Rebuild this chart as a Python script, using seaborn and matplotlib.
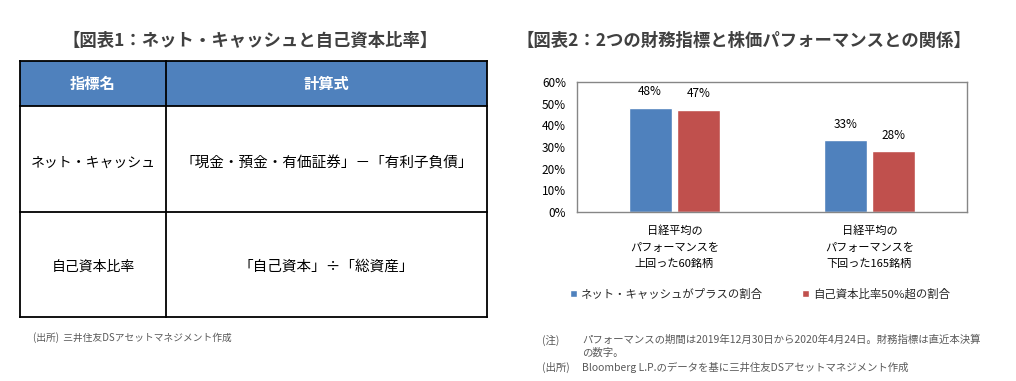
import matplotlib
matplotlib.use("Agg")
import matplotlib.pyplot as plt
import matplotlib.ticker as mticker
from matplotlib.patches import Rectangle
import seaborn as sns
import pandas as pd

# ---------------- data ----------------
title1 = "【図表1：ネット・キャッシュと自己資本比率】"
title2 = "【図表2：2つの財務指標と株価パフォーマンスとの関係】"
table_header = ["指標名", "計算式"]
table_names = ["ネット・キャッシュ", "自己資本比率"]
table_formulas = ["「現金・預金・有価証券」－「有利子負債」", "「自己資本」÷「総資産」"]
source1 = "(出所)  三井住友DSアセットマネジメント作成"

categories = ["日経平均の\nパフォーマンスを\n上回った60銘柄", "日経平均の\nパフォーマンスを\n下回った165銘柄"]
series_names = ["ネット・キャッシュがプラスの割合", "自己資本比率50%超の割合"]
net_cash_plus = [0.48, 0.33]
equity_ratio_50 = [0.47, 0.28]
y_ticks = [0, 0.1, 0.2, 0.3, 0.4, 0.5, 0.6]

note_label = "(注)"
note_lines = ["パフォーマンスの期間は2019年12月30日から2020年4月24日。財務指標は直近本決算", "の数字。"]
source2_label = "(出所)"
source2_text = "Bloomberg L.P.のデータを基に三井住友DSアセットマネジメント作成"

BLUE = "#4F81BD"
RED = "#C0504D"
TEXT = "#404040"

# ---------------- style ----------------
sns.set_theme(style="white")
plt.rcParams["font.family"] = ["Noto Sans CJK JP", "DejaVu Sans"]

W, H = 1016, 381
fig = plt.figure(figsize=(W / 100, H / 100), dpi=100)

# overlay axes in pixel coordinates for table and texts
pa = fig.add_axes([0, 0, 1, 1])
pa.set_xlim(0, W)
pa.set_ylim(H, 0)
pa.axis("off")

# titles
pa.text(250, 41, title1, ha="center", va="center", fontsize=12.5, fontweight="bold", color=TEXT)
pa.text(744, 41, title2, ha="center", va="center", fontsize=12.5, fontweight="bold", color=TEXT)

# table
L, R, C = 20, 487, 166
T, HB, R1, B = 61, 106, 212, 317
pa.add_patch(Rectangle((L, T), R - L, HB - T, facecolor=BLUE, edgecolor="none"))
lw = 1.3
for y in [T, HB, R1, B]:
    pa.plot([L, R], [y, y], color="black", lw=lw, solid_capstyle="projecting")
for x in [L, C, R]:
    pa.plot([x, x], [T, B], color="black", lw=lw, solid_capstyle="projecting")
pa.text((L + C) / 2, (T + HB) / 2, table_header[0], ha="center", va="center",
        fontsize=11, fontweight="bold", color="white")
pa.text((C + R) / 2, (T + HB) / 2, table_header[1], ha="center", va="center",
        fontsize=11, fontweight="bold", color="white")
row_centers = [(HB + R1) / 2 + 4, (R1 + B) / 2 + 2]
for yc, name, formula in zip(row_centers, table_names, table_formulas):
    pa.text((L + C) / 2, yc, name, ha="center", va="center", fontsize=10, color="black")
    pa.text((C + R) / 2, yc, formula, ha="center", va="center", fontsize=10.5, color="black")
pa.text(33, 338, source1, ha="left", va="center", fontsize=7, color="#595959")

# notes (right)
pa.text(542, 340, note_label, ha="left", va="center", fontsize=7.5, color="#595959")
pa.text(582, 340, note_lines[0], ha="left", va="center", fontsize=7.5, color="#595959")
pa.text(582, 353, note_lines[1], ha="left", va="center", fontsize=7.5, color="#595959")
pa.text(542, 367, source2_label, ha="left", va="center", fontsize=7.5, color="#595959")
pa.text(582, 367, source2_text, ha="left", va="center", fontsize=7.5, color="#595959")

# ---------------- bar chart ----------------
ax_l, ax_r, ax_t, ax_b = 577, 967, 82, 212
ax = fig.add_axes([ax_l / W, (H - ax_b) / H, (ax_r - ax_l) / W, (ax_b - ax_t) / H])

df = pd.DataFrame({
    "category": categories * 2,
    "series": [series_names[0]] * len(categories) + [series_names[1]] * len(categories),
    "value": net_cash_plus + equity_ratio_50,
})
sns.barplot(data=df, x="category", y="value", hue="series", order=categories,
            hue_order=series_names, palette=[BLUE, RED], width=0.5, gap=0.12,
            saturation=1, ax=ax)

handles, labels = ax.get_legend_handles_labels()
if ax.get_legend() is not None:
    ax.get_legend().remove()

for cont in ax.containers:
    ax.bar_label(cont, labels=[f"{v * 100:.0f}%" for v in cont.datavalues],
                 padding=7, fontsize=8.5, color="black")

ax.set_ylim(0, 0.6)
ax.set_yticks(y_ticks)
ax.yaxis.set_major_formatter(mticker.PercentFormatter(1.0, decimals=0))
ax.set_xlabel("")
ax.set_ylabel("")
ax.tick_params(axis="y", length=0, pad=8, labelsize=8.5, labelcolor="black")
ax.tick_params(axis="x", length=0, pad=10, labelsize=8, labelcolor="black")
for lab in ax.get_xticklabels():
    lab.set_linespacing(1.75)
for sp in ax.spines.values():
    sp.set_visible(True)
    sp.set_color("#868686")
    sp.set_linewidth(1)
ax.grid(False)

fig.legend(handles, labels, loc="center", bbox_to_anchor=(760 / W, (H - 294) / H),
           ncol=2, frameon=False, fontsize=8.2, handlelength=0.6, handleheight=0.6,
           handletextpad=0.3, columnspacing=3.5, borderpad=0)

fig.savefig("out.png", dpi=100)
